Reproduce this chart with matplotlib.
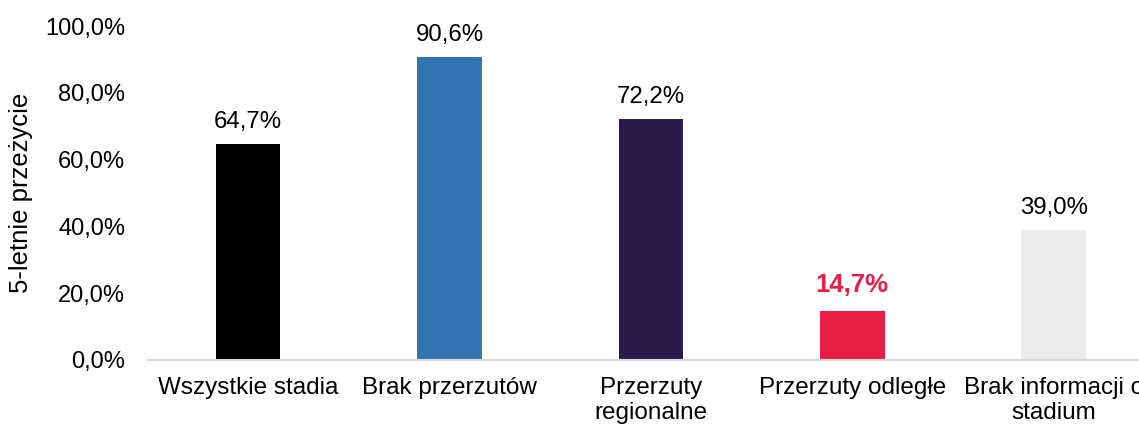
import matplotlib.pyplot as plt
from matplotlib.ticker import FuncFormatter

plt.rcParams['font.family'] = ['Liberation Sans', 'DejaVu Sans']

# 5-year survival by stage
stages = ['Wszystkie stadia', 'Brak przerzutów', 'Przerzuty\nregionalne',
          'Przerzuty odległe', 'Brak informacji o\nstadium']
survival = [64.7, 90.6, 72.2, 14.7, 39.0]
bar_colors = ['#000000', '#3375B2', '#2C1A4D', '#E91E47', '#EBEBEB']
highlight = 3

fig = plt.figure(figsize=(11.39, 4.28), dpi=100)
ax = fig.add_axes([0.1295, 0.159, 0.884, 0.780])

x = range(len(stages))
ax.bar(x, survival, width=0.32, color=bar_colors)

for i, v in enumerate(survival):
    label = f"{v:.1f}%".replace('.', ',')
    if i == highlight:
        ax.annotate(label, (i, v), xytext=(0, 10), textcoords='offset points',
                    ha='center', va='bottom', fontsize=18.5, fontweight='bold',
                    color='#E91E47')
    else:
        ax.annotate(label, (i, v), xytext=(0, 8), textcoords='offset points',
                    ha='center', va='bottom', fontsize=17.3, color='#000000')

ax.set_xlim(-0.5, len(stages) - 0.5)
ax.set_ylim(0, 100)
ax.set_yticks(range(0, 101, 20))
ax.yaxis.set_major_formatter(FuncFormatter(lambda v, p: f"{v:.1f}%".replace('.', ',')))
ax.set_xticks(list(x))
ax.set_xticklabels(stages, fontsize=17.5, linespacing=1.2)
ax.tick_params(axis='y', labelsize=17, length=0, pad=16)
ax.tick_params(axis='x', length=0, pad=12)

for side in ['top', 'right', 'left']:
    ax.spines[side].set_visible(False)
ax.spines['bottom'].set_color('#D9D9D9')
ax.spines['bottom'].set_linewidth(1.5)

ax.set_ylabel('5-letnie przeżycie', fontsize=18.5, labelpad=9)

fig.savefig('out.png', dpi=100)
